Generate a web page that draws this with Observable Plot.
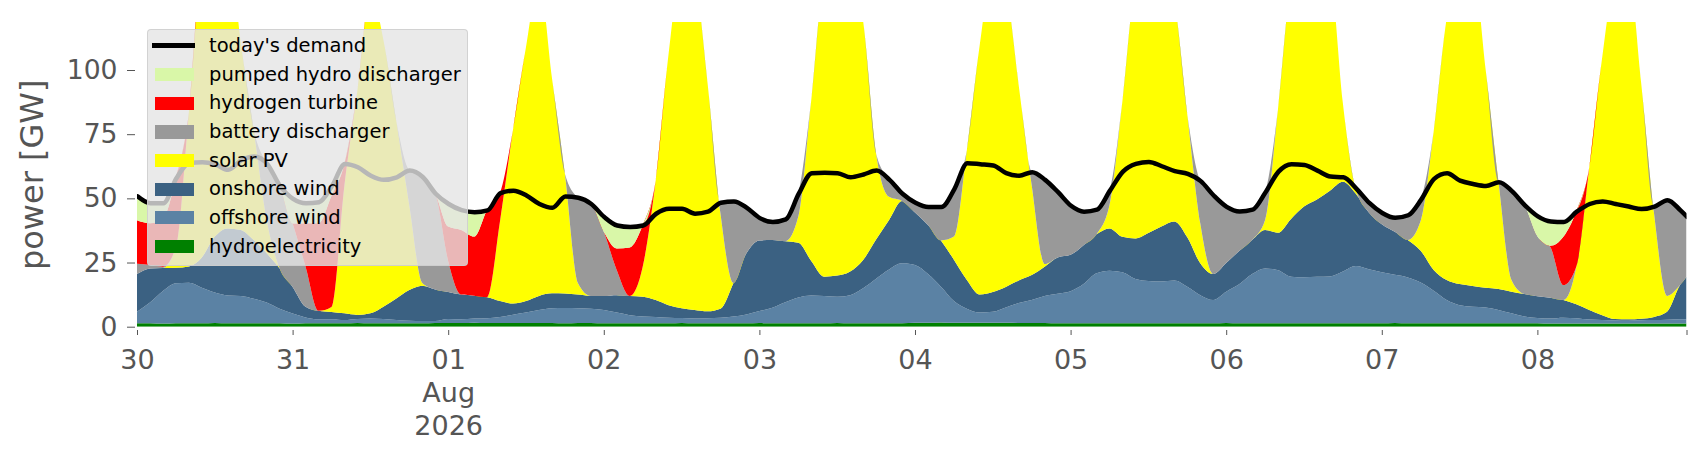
<!DOCTYPE html>
<html><head><meta charset="utf-8">
<script src="https://cdn.jsdelivr.net/npm/d3@7"></script>
<script src="https://cdn.jsdelivr.net/npm/@observablehq/plot@0.6"></script>
<style>
body{margin:0;background:#fff;font-family:"DejaVu Sans",sans-serif;}
#wrap{position:relative;width:1706px;height:460px;overflow:hidden;}
#legend{position:absolute;left:147px;top:29px;width:321px;height:237px;box-sizing:border-box;background:rgba(229,229,229,0.8);border:1px solid rgba(204,204,204,0.8);border-radius:4px;}
.row{position:absolute;left:0;width:100%;height:28px;}
.hl{position:absolute;}
.tx{position:absolute;left:61px;top:0;line-height:28px;font-size:19.5px;color:#000;white-space:nowrap;}
</style></head><body>
<div id="wrap"><div id="chart"></div><div id="legend"></div></div>
<script>
const seriesNames = ["hydroelectricity","offshore wind","onshore wind","solar PV","battery discharger","hydrogen turbine","pumped hydro discharger"];
const seriesColors = ["#008000","#5b82a4","#3b6182","#ffff00","#999999","#ff0000","#d9f7a8"];
const legendOrder = ["today's demand","pumped hydro discharger","hydrogen turbine","battery discharger","solar PV","onshore wind","offshore wind","hydroelectricity"];
const tickLabels = ["30","31","01\nAug\n2026","02","03","04","05","06","07","08",""];
const tickHours = [0,24,48,72,96,120,144,168,192,216,239];
const yTicks = [0,25,50,75,100];

const hydro = [1.3,1.3,1.2,1.3,1.3,1.3,1.4,1.3,1.3,1.3,
 1.3,1.3,1.2,1.3,1.3,1.3,1.3,1.4,1.3,1.3,
 1.3,1.3,1.3,1.4,1.4,1.4,1.5,1.4,1.4,1.4,
 1.4,1.4,1.4,1.3,1.4,1.4,1.3,1.3,1.3,1.3,
 1.3,1.3,1.4,1.3,1.3,1.3,1.3,1.3,1.4,1.3,
 1.3,1.3,1.3,1.3,1.4,1.3,1.3,1.3,1.3,1.3,
 1.5,1.5,1.6,1.5,1.5,1.5,1.5,1.5,1.4,1.4,
 1.4,1.3,1.3,1.3,1.3,1.3,1.3,1.3,1.3,1.3,
 1.3,1.3,1.3,1.3,1.4,1.3,1.3,1.3,1.3,1.3,
 1.3,1.3,1.3,1.3,1.3,1.3,1.3,1.4,1.3,1.3,
 1.3,1.3,1.3,1.3,1.3,1.3,1.3,1.3,1.3,1.2,
 1.2,1.2,1.2,1.2,1.2,1.2,1.2,1.2,1.2,1.2,
 1.2];
const offshore = [4.5,8.1,12.7,15.6,15.8,13.9,11.9,10.9,10.7,9.6,
 8.1,5.7,3.9,2.3,1.6,1.6,1.3,1.6,1.9,1.7,
 1.3,1.0,0.9,0.8,1.6,1.5,1.7,1.9,2.4,3.3,
 4.1,5.1,5.8,6.0,5.8,5.6,5.2,4.2,3.2,2.7,
 2.5,2.2,2.0,1.9,2.0,2.2,2.7,3.5,4.7,6.1,
 8.2,10.1,10.9,10.7,10.3,11.0,13.7,17.4,21.0,23.4,
 22.5,19.0,14.0,8.5,5.5,4.0,4.3,6.0,7.8,9.0,
 10.6,11.5,12.5,15.3,19.5,20.5,19.9,17.3,16.5,16.3,
 16.7,14.3,11.0,9.1,12.2,15.2,19.2,21.4,20.7,18.2,
 18.0,18.2,18.3,20.2,22.3,21.1,19.9,18.8,17.9,15.9,
 12.7,9.1,7.1,6.5,6.2,5.2,3.9,2.7,2.1,2.0,
 2.3,2.1,1.6,1.4,1.2,1.1,1.3,1.4,1.5,1.7,
 1.7];
const onshore = [14.7,13.3,9,6.1,6.4,11.8,21.8,26.1,25.7,22.9,
 19.2,15.7,10.4,4.2,3.3,2.8,2.6,1.6,2.0,4.8,
 8.4,12,13.8,12.3,10.5,9.6,8.9,8.2,6.2,4.3,
 4.5,5.5,5.8,5.6,5.3,5.0,5.5,6.8,7.5,7.7,
 6.6,4.9,3.8,3.3,2.7,3.5,13,23.8,27.5,26.4,
 23.8,21.3,13.4,7.5,8.2,9.2,11,15.3,19.3,24.3,
 20.5,19.1,18,16.1,11.2,7,7.7,8,8.8,9.7,
 11.4,14.2,14.2,15.1,15.2,16.5,13.8,15.8,18.7,21.4,
 23,19.2,12.4,10.1,11.2,13,13.3,15,14.6,22.5,
 27.5,30.1,33.4,35,28.2,22.1,18.7,16.8,14.6,12.4,
 8.1,7.8,8.2,8.1,7.7,8.2,8.4,8.7,8.5,8.1,
 6.9,5.4,3.7,1.9,0.6,0.6,0.6,1.2,3.1,13.3,
 16.6];
const solar = [0,0,0,8,60,115,115,112,73,43,
 13,0,0,0,0,2,50,87.5,125,104,
 69,33,1,0,0,0,0,0,31.3,67.8,
 99,123,84,46.7,4.5,0,0,0,0,11.7,
 46.6,98,133,128.5,89,37,0,0,0,0,
 0,10.2,62.7,115.5,120,118.5,93,33.5,9,0,
 0,0,0,9,50.6,97.5,126.5,116,76,35,
 1,0,0,0,0,9.1,53,100,108.5,106,
 86.6,48,15.6,0,0,0,0,3.9,48.4,93,
 103,100.4,86.8,30.5,1.7,0,0,0,0,11.7,
 53.9,101.8,123.4,125,85.4,41.8,4.6,0,0,0,
 0,14.7,55.5,100.5,132.4,135,92,40.2,6.2,0,
 0];
const battery = [4,1.3,0.5,0,0,0,0,0,0,0,
 22,32.3,24.7,15.6,0,0,0,0,0,0,
 0,13.7,41.5,37.5,12,0,0,0,0,0,
 0,0,0,0,33.4,36,25,9.7,0,0,
 0,0,0,0,0,4.5,32,17.9,9,7.2,
 8.7,9.1,0,0,0,0,0,0,6.8,3,
 4,7.2,13.3,18.7,0,0,0,0,0,5.3,
 33,25.6,19.3,13.3,9.8,5.8,0,0,0,0,
 0,0,16.6,30.8,22.2,15.6,12,11,0,0,
 0,0,0,0,0.5,3.9,4.6,5.7,9.8,8.4,
 0,0,0,0,0,0,34.8,34.8,23.3,19.7,
 5.8,0,0,0,0,0,0,3,37.5,29.3,
 23.5];
const hydrogen = [17,16.3,18.7,27,0,0,0,0,0,0,
 0,0,0,16.9,34.1,43.3,8.4,0,0,0,
 0,0,0,0,13.5,25.2,23,34,10.9,0,
 0,0,0,0,0,0,0,8.5,18.9,16.2,
 0,0,0,0,0,0,0,0,0,0,
 0,0,0,0,0,0,0,0,0,0,
 0,0,0,0,0,0,0,0,0,0,
 0,0,0,0,0,0,0,0,0,0,
 0,0,0,0,0,0,0,0,0,0,
 0,0,0,0,0,0,0,0,0,0,
 0,0,0,0,0,0,0,0,0,0.5,
 18.8,21.6,0,0,0,0,0,0,0,0,
 0];
const pumped = [9.5,8,6.1,0,0,0,0,0,0,0,
 0,0,9.7,8,8.4,4,0,0,0,0,
 0,0,0,0,9,7.9,9.8,0,0,0,
 0,0,0,0,0,0,5.9,9.1,8.1,0,
 0,0,0,0,0,0,0,0,0,0,
 0,0,0,0,0,0,0,0,0,0,
 0,0,0,0,0,0,0,0,0,0,
 0,0,0,0,0,0,0,0,0,0,
 0,0,0,0,0,0,0,0,0,0,
 0,0,0,0,0,0,0,0,0,0,
 0,0,0,0,0,0,0,0,8,9.7,
 6,0,0,0,0,0,0,0,0,0,
 0];
const demand = [51,48.3,48.3,58,64,64.3,63.4,61.3,65,66.5,
 63.6,55,50,48.3,48.7,55,63.6,62.3,59,57.4,
 58.4,61,58.5,52,48,45.6,44.8,45.5,52.2,53.2,
 51.3,48,46.5,50.9,50.4,48,42.9,39.6,39,39.6,
 44.2,46.1,46.1,44.2,45,48.5,49,46.5,42.5,41,
 42,52,60,60.2,60,58.4,59.5,61,57.4,52,
 48.5,46.8,46.8,53.8,63.9,63.5,63,60,59,60.4,
 57.4,52.6,47.3,45,45.8,53.2,60.6,63.6,64.4,62.7,
 60.8,59.7,56.9,51.3,46.9,45.1,45.8,52.6,60.6,63.5,
 63.2,61,58.7,58.4,54,48.4,44.5,42.6,43.6,49.7,
 57.8,60,57.1,55.8,55,56.5,53,47.5,43.2,41.2,
 41,45,48,49,48,47,46,47,49.5,45.5,
 43];

const start = Date.UTC(2026, 6, 30);
const hours = d3.range(0, 240, 2).concat([239]);
const times = hours.map(h => new Date(start + h * 3600e3));
const layers = [hydro, offshore, onshore, solar, battery, hydrogen, pumped];
const rows = [];
layers.forEach((vals, k) => vals.forEach((v, i) => rows.push({time: times[i], series: seriesNames[k], value: v})));
const demandRows = demand.map((v, i) => ({time: times[i], value: v}));
const tickDates = tickHours.map(h => new Date(start + h * 3600e3));
const labelMap = new Map(tickDates.map((d, i) => [+d, tickLabels[i]]));

const chart = Plot.plot({
  width: 1706, height: 460,
  marginLeft: 137, marginRight: 19.5, marginTop: 22, marginBottom: 133.3,
  style: {fontFamily: "DejaVu Sans, sans-serif", background: "#fff", overflow: "visible"},
  x: {type: "utc", domain: [times[0], times[times.length - 1]]},
  y: {domain: [0, 118.7]},
  color: {domain: seriesNames, range: seriesColors},
  marks: [
    Plot.areaY(rows, {x: "time", y: "value", z: "series", fill: "series", order: seriesNames, curve: "monotone-x", clip: true}),
    Plot.lineY(demandRows, {x: "time", y: "value", stroke: "#000", strokeWidth: 4.5, strokeLinejoin: "round", curve: "monotone-x", clip: true}),
    Plot.axisY({ticks: yTicks, tickSize: 8, tickPadding: 10, dx: -2, fontSize: 26.6, color: "#555", label: null}),
    Plot.axisY({ticks: [], tickSize: 0, label: "power [GW]", labelAnchor: "center", labelArrow: "none", labelOffset: 117, fontSize: 32, color: "#555"}),
    Plot.axisX({ticks: tickDates, tickFormat: d => labelMap.get(+d) ?? "", tickSize: 5, tickPadding: 10.3, dy: 3.3, fontSize: 27, lineHeight: 1.22, color: "#555", label: null})
  ]
});
document.getElementById("chart").appendChild(chart);

const legendColors = {"today's demand": "#000"};
seriesNames.forEach((n, i) => legendColors[n] = seriesColors[i]);
const legend = document.getElementById("legend");
legendOrder.forEach((name, i) => {
  const row = document.createElement("div");
  row.className = "row";
  row.style.top = (17 + 28.65 * i - 14 - 1) + "px";
  const h = document.createElement("div");
  h.className = "hl";
  if (i === 0) {
    Object.assign(h.style, {left: "4px", width: "43px", height: "5px", top: "11px", background: legendColors[name]});
  } else {
    Object.assign(h.style, {left: "7px", width: "38.7px", height: "13.3px", top: "7.3px", background: legendColors[name]});
  }
  const t = document.createElement("div");
  t.className = "tx";
  t.textContent = name;
  row.appendChild(h); row.appendChild(t);
  legend.appendChild(row);
});
</script>
</body></html>
